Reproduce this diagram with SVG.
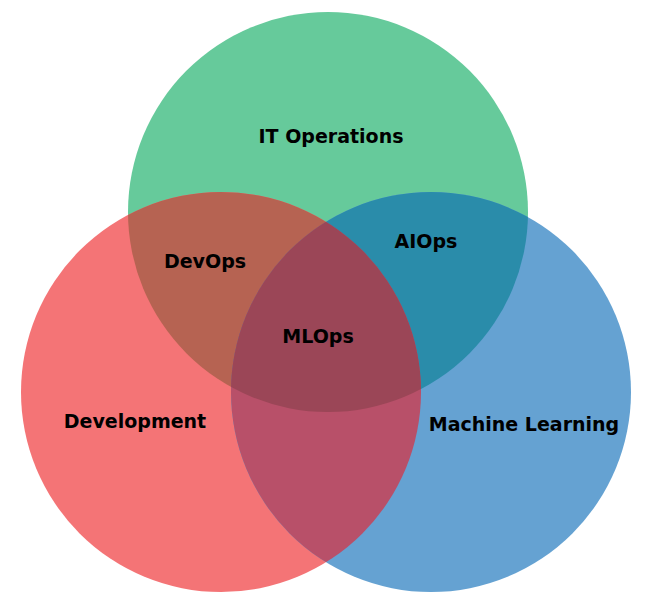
<svg xmlns="http://www.w3.org/2000/svg" width="653" height="604" viewBox="0 0 653 604">
  <style>
    .lbl { font-family: "DejaVu Sans", Verdana, sans-serif; font-weight: bold; font-size: 19px; fill: #000; text-anchor: middle; }
  </style>
  <defs>
    <clipPath id="clip-ops"><circle cx="328" cy="212" r="200"/></clipPath>
    <clipPath id="clip-dev"><circle cx="221" cy="392" r="200"/></clipPath>
    <clipPath id="clip-ml"><circle cx="431" cy="392" r="200"/></clipPath>
  </defs>
  <rect width="653" height="604" fill="#fff"/>

  <!-- three sets -->
  <g id="it-operations">
    <circle cx="328" cy="212" r="200" fill="#66CA9B"/>
  </g>
  <g id="development">
    <circle cx="221" cy="392" r="200" fill="#F47476"/>
  </g>
  <g id="machine-learning">
    <circle cx="431" cy="392" r="200" fill="#65A2D2"/>
  </g>

  <!-- pairwise overlaps -->
  <g id="devops">
    <g clip-path="url(#clip-ops)"><circle cx="221" cy="392" r="200" fill="#B66352"/></g>
  </g>
  <g id="aiops">
    <g clip-path="url(#clip-ops)"><circle cx="431" cy="392" r="200" fill="#2A8CAA"/></g>
  </g>
  <g id="dev-ml">
    <g clip-path="url(#clip-dev)"><circle cx="431" cy="392" r="200" fill="#B85069"/></g>
  </g>

  <!-- triple overlap -->
  <g id="mlops">
    <g clip-path="url(#clip-ops)"><g clip-path="url(#clip-dev)"><circle cx="431" cy="392" r="200" fill="#9B4657"/></g></g>
  </g>

  <!-- labels -->
  <g id="labels">
    <text class="lbl" x="331" y="143">IT Operations</text>
    <text class="lbl" x="205" y="268">DevOps</text>
    <text class="lbl" x="426" y="248">AIOps</text>
    <text class="lbl" x="318" y="343">MLOps</text>
    <text class="lbl" x="135" y="428">Development</text>
    <text class="lbl" x="524" y="431">Machine Learning</text>
  </g>
</svg>
